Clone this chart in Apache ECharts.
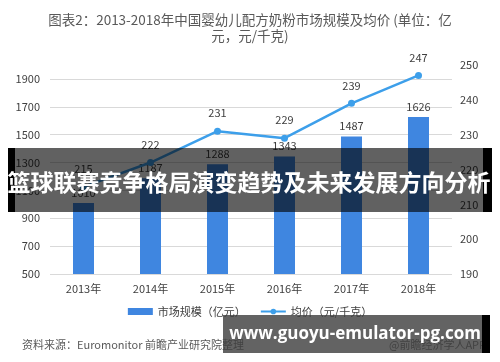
<!DOCTYPE html>
<html><head><meta charset="utf-8">
<script src="https://cdn.jsdelivr.net/npm/echarts@6/dist/echarts.min.js"></script>
<style>html,body{margin:0;padding:0;background:#fff}#c{width:500px;height:362px}</style>
</head><body><div id="c"></div>
<script>
const categories = ['2013年','2014年','2015年','2016年','2017年','2018年'];
const marketSize = [1010, 1187, 1288, 1343, 1487, 1626];
const avgPrice = [215, 222, 231, 229, 239, 247];
const titleText = '图表2：2013-2018年中国婴幼儿配方奶粉市场规模及均价 (单位：亿\n元，元/千克)';
const seriesNames = ['市场规模（亿元）', '均价（元/千克）'];
const sourceText = '资料来源：Euromonitor 前瞻产业研究院整理';
const creditText = '@前瞻经济学人APP';
const bannerText = '篮球联赛竞争格局演变趋势及未来发展方向分析';
const urlText = 'www.guoyu-emulator-pg.com';

const FONT = '"Noto Sans CJK SC", "Noto Sans", sans-serif';
const chart = echarts.init(document.getElementById('c'), null, {renderer: 'canvas'});
chart.setOption({
  animation: false,
  textStyle: {fontFamily: FONT},
  title: {
    text: titleText, left: 'center', top: 7,
    textStyle: {fontSize: 13.5, fontWeight: 'normal', color: '#595959', lineHeight: 16, fontFamily: FONT}
  },
  legend: {
    top: 301, left: 'center', itemGap: 14, itemWidth: 25, itemHeight: 7,
    textStyle: {fontSize: 11, color: '#404040'},
    data: [{name: seriesNames[0], icon: 'rect'}, {name: seriesNames[1]}]
  },
  grid: {left: 50, right: 48, top: 65, bottom: 88},
  xAxis: {
    type: 'category', data: categories,
    axisLine: {show: false}, axisTick: {show: false},
    axisLabel: {color: '#404040', fontSize: 11, margin: 9}
  },
  yAxis: [
    {type: 'value', min: 500, max: 2000, interval: 200,
     axisLine: {show: false}, axisTick: {show: false},
     axisLabel: {color: '#404040', fontSize: 11, margin: 10, showMaxLabel: false, formatter: v => String(v)},
     splitLine: {lineStyle: {color: '#d9d9d9', width: 1}, showMaxLine: false}},
    {type: 'value', min: 190, max: 250, interval: 10,
     axisLine: {show: false}, axisTick: {show: false},
     axisLabel: {color: '#404040', fontSize: 11, margin: 8, formatter: v => String(v)},
     splitLine: {show: false}}
  ],
  series: [
    {name: seriesNames[0], type: 'bar', data: marketSize, barWidth: 21,
     itemStyle: {color: '#3f86e0'},
     label: {show: true, position: 'top', color: '#404040', fontSize: 11, distance: 5}},
    {name: seriesNames[1], type: 'line', yAxisIndex: 1, data: avgPrice,
     symbol: 'circle', symbolSize: 7,
     lineStyle: {color: '#3d9fea', width: 2.5}, itemStyle: {color: '#3d9fea'},
     label: {show: true, position: 'top', color: '#404040', fontSize: 11, distance: 9}}
  ],
  graphic: [
    {type: 'text', left: 22, top: 339, style: {text: sourceText, fill: '#595959', font: '11px ' + FONT}},
    {type: 'text', right: 14, top: 339, style: {text: creditText, fill: '#595959', font: '11px ' + FONT}},
    {type: 'rect', shape: {x: 8, y: 148, width: 484, height: 64}, style: {fill: 'rgba(0,0,0,0.62)'}, z: 100},
    {type: 'rect', shape: {x: 8, y: 148, width: 7, height: 64}, style: {fill: '#000'}, z: 101},
    {type: 'rect', shape: {x: 483, y: 148, width: 9, height: 64}, style: {fill: '#000'}, z: 101},
    {type: 'text', x: 249, y: 182, style: {text: bannerText, fill: '#fff', font: 'bold 23px ' + FONT, align: 'center', verticalAlign: 'middle'}, z: 102},
    {type: 'rect', shape: {x: 223, y: 315, width: 267, height: 38}, style: {fill: 'rgba(60,60,60,0.8)'}, z: 100},
    {type: 'rect', shape: {x: 482, y: 315, width: 8, height: 38}, style: {fill: '#000'}, z: 101},
    {type: 'text', x: 355, y: 334, style: {text: urlText, fill: '#fff', font: 'bold 17px "Open Sans", "DejaVu Sans", sans-serif', align: 'center', verticalAlign: 'middle'}, z: 102}
  ]
});
</script></body></html>
